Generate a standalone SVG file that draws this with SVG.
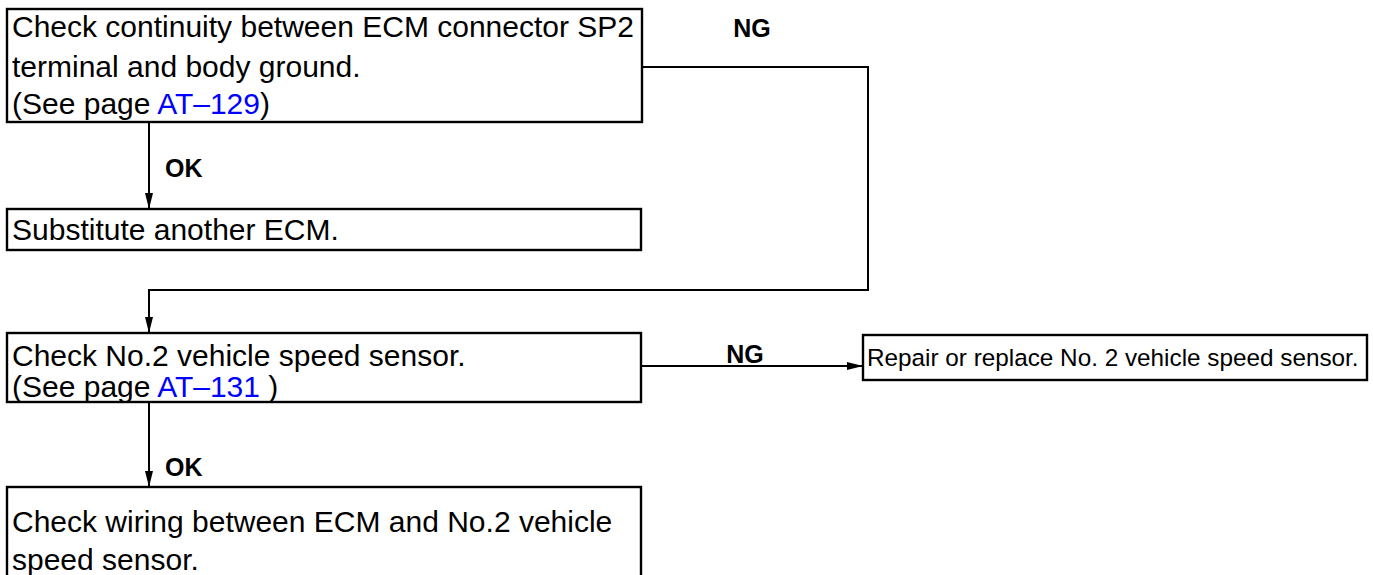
<svg xmlns="http://www.w3.org/2000/svg" width="1373" height="575" viewBox="0 0 1373 575">
<style>
.box{fill:#fff;stroke:#000;stroke-width:2.4}
.t{font-family:"Liberation Sans",Arial,sans-serif;font-size:30px;fill:#000}
.s{font-family:"Liberation Sans",Arial,sans-serif;font-size:24.3px;fill:#000}
.lbl{font-family:"Liberation Sans",Arial,sans-serif;font-size:25px;font-weight:bold;fill:#000}
.link{fill:#0000ff}
.c{fill:none;stroke:#000;stroke-width:2}
</style>
<defs>
<marker id="ah" viewBox="0 0 16 8" refX="16" refY="4" markerWidth="16" markerHeight="8" markerUnits="userSpaceOnUse" orient="auto">
<path d="M0,0 L16,4 L0,8 Z" fill="#000"/>
</marker>
</defs>
<rect width="1373" height="575" fill="#fff"/>
<g id="connectors">
<path class="c" d="M642,67 H868 V290 H149 V333" marker-end="url(#ah)"/>
<path class="c" d="M149,122 V209" marker-end="url(#ah)"/>
<path class="c" d="M641,366 H863" marker-end="url(#ah)"/>
<path class="c" d="M149,402 V487" marker-end="url(#ah)"/>
<text class="lbl" x="752" y="37" text-anchor="middle">NG</text>
<text class="lbl" x="165" y="177">OK</text>
<text class="lbl" x="745" y="363" text-anchor="middle">NG</text>
<text class="lbl" x="165" y="476">OK</text>
</g>
<g id="n1">
<rect class="box" x="7" y="9" width="635" height="113"/>
<text class="t" x="12" y="37">Check continuity between ECM connector SP2</text>
<text class="t" x="12" y="77">terminal and body ground.</text>
<text class="t" x="12" y="114">(See page <tspan class="link">AT–129</tspan>)</text>
</g>
<g id="n2">
<rect class="box" x="7" y="209" width="634" height="41"/>
<text class="t" x="12" y="240">Substitute another ECM.</text>
</g>
<g id="n3">
<rect class="box" x="7" y="333" width="634" height="69"/>
<text class="t" x="12" y="366">Check No.2 vehicle speed sensor.</text>
<text class="t" x="12" y="397">(See page <tspan class="link">AT–131</tspan> )</text>
</g>
<g id="n4">
<rect class="box" x="863" y="335" width="504" height="45"/>
<text class="s" x="867" y="366">Repair or replace No. 2 vehicle speed sensor.</text>
</g>
<g id="n5">
<rect class="box" x="7" y="487" width="634" height="100"/>
<text class="t" x="12" y="532">Check wiring between ECM and No.2 vehicle</text>
<text class="t" x="12" y="570">speed sensor.</text>
</g>
</svg>
